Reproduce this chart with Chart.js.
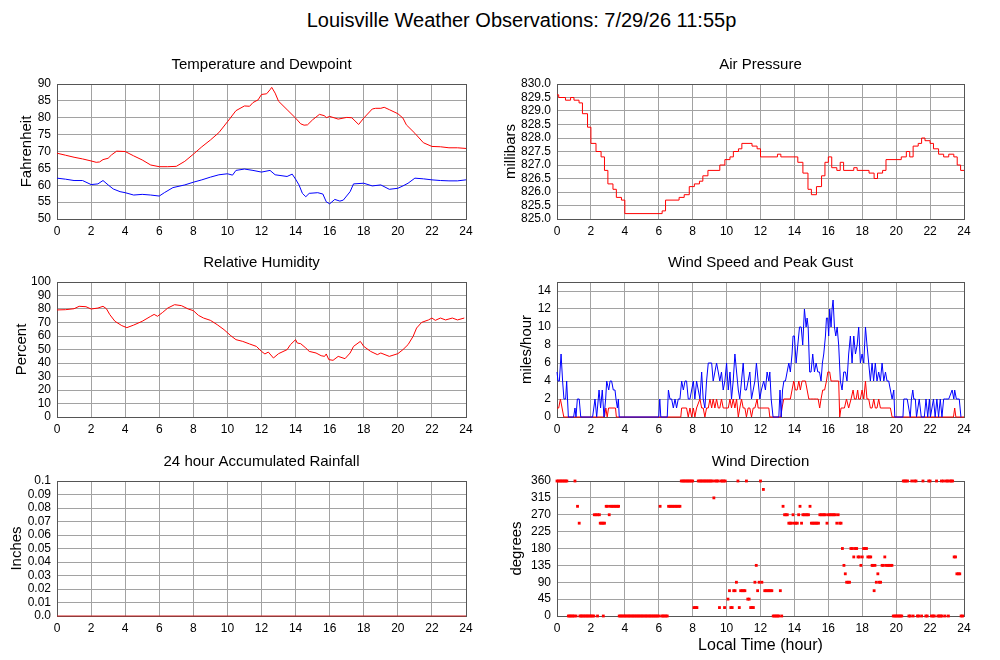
<!DOCTYPE html>
<html>
<head>
<meta charset="utf-8">
<script src="https://cdn.jsdelivr.net/npm/chart.js@4.4.1/dist/chart.umd.min.js"></script>
<style>
    body { margin: 0; background: #fff; width: 1000px; height: 660px; overflow: hidden; position: relative; font-family: "Liberation Sans", Arial, sans-serif; }
    #main-title { position: absolute; left: 0; top: 8px; width: 1043px; text-align: center; font-size: 20px; line-height: 24px; color: #000; }
    canvas { position: absolute; }
</style>
</head>
<body>
<div id="main-title">Louisville Weather Observations: 7/29/26 11:55p</div>
<canvas id="tempChart" style="left:0;top:50px" width="490" height="192"></canvas>
<canvas id="pressureChart" style="left:490px;top:50px" width="510" height="192"></canvas>
<canvas id="humidityChart" style="left:0;top:248px" width="490" height="192"></canvas>
<canvas id="windChart" style="left:490px;top:248px" width="510" height="192"></canvas>
<canvas id="rainChart" style="left:0;top:447px" width="490" height="192"></canvas>
<canvas id="dirChart" style="left:490px;top:447px" width="510" height="213"></canvas>
<script>
// --- Data (hour of day, value) ---
const hourTicks = [0, 2, 4, 6, 8, 10, 12, 14, 16, 18, 20, 22, 24];

const temperature = [[0,69.5],[0.5,68.9],[1,68.3],[1.5,67.8],[2,67.2],[2.3,66.8],[2.5,66.9],[2.7,67.6],[3,68.0],[3.2,69.0],[3.5,70.1],[4,70.0],[4.5,68.7],[5,67.5],[5.5,66.0],[6,65.5],[6.5,65.5],[7,65.6],[7.5,67.1],[8,69.2],[8.5,71.4],[9,73.4],[9.5,75.6],[10,78.8],[10.5,82.1],[11,83.5],[11.3,83.4],[11.5,84.5],[11.8,85.3],[12,86.9],[12.3,87.1],[12.5,88.3],[12.6,89.0],[12.8,87.3],[13,84.9],[13.5,82.4],[14,79.9],[14.3,78.2],[14.5,77.8],[14.7,77.9],[15,79.4],[15.4,81.0],[15.7,80.6],[15.8,80.0],[16,80.4],[16.5,79.6],[17,80.1],[17.3,80.0],[17.7,78.0],[18,79.9],[18.5,82.6],[18.7,82.8],[19,82.8],[19.2,83.1],[19.5,82.4],[20,81.2],[20.3,79.9],[20.5,77.9],[21,75.4],[21.5,72.6],[22,71.5],[22.5,71.4],[23,71.1],[23.5,71.1],[24,70.9]];

const dewpoint = [[0,62.1],[0.5,61.8],[1,61.4],[1.5,61.4],[2,60.2],[2.4,60.4],[2.7,61.4],[3,60.1],[3.3,58.9],[3.7,58.1],[4,57.8],[4.5,57.1],[5,57.3],[5.5,57.1],[6,56.8],[6.3,57.8],[6.8,59.3],[7.5,60.1],[8,60.9],[8.5,61.6],[9,62.4],[9.5,63.1],[10,63.4],[10.3,63.0],[10.5,64.4],[11,64.8],[11.5,64.4],[12,63.9],[12.5,64.4],[12.8,63.1],[13.5,62.6],[13.8,63.3],[14,61.8],[14.2,60.1],[14.4,57.6],[14.6,56.6],[14.8,57.6],[15.3,57.8],[15.6,57.4],[15.8,55.1],[16,54.5],[16.3,55.8],[16.6,55.3],[16.8,55.6],[17.2,58.1],[17.4,60.4],[18,60.6],[18.5,59.8],[19,60.1],[19.5,58.8],[20,59.1],[20.3,59.8],[20.6,60.6],[21,62.1],[21.5,61.9],[22,61.6],[22.5,61.4],[23,61.3],[23.5,61.3],[24,61.6]];

const pressure = [[0,829.6],[0.1,829.5],[0.5,829.4],[0.8,829.5],[1.0,829.4],[1.3,829.3],[1.5,828.9],[1.8,828.4],[2.0,827.8],[2.3,827.5],[2.6,827.3],[2.8,826.8],[3.0,826.3],[3.3,826.1],[3.5,825.8],[3.8,825.7],[4.0,825.2],[6.2,825.3],[6.4,825.7],[7.2,825.8],[7.5,825.9],[7.8,826.2],[8.1,826.3],[8.4,826.4],[8.6,826.6],[8.9,826.8],[9.6,827.0],[9.9,827.2],[10.2,827.3],[10.4,827.5],[10.7,827.6],[10.9,827.8],[11.5,827.7],[11.8,827.6],[12.0,827.3],[13.0,827.4],[13.2,827.3],[14.2,827.1],[14.5,826.7],[14.8,826.1],[15.0,825.9],[15.3,826.2],[15.6,826.6],[15.8,827.1],[16.0,827.3],[16.2,826.9],[16.5,826.8],[16.7,827.1],[16.9,826.8],[17.5,826.9],[17.7,826.8],[18.4,826.7],[18.7,826.5],[18.9,826.7],[19.2,826.8],[19.4,827.2],[20.3,827.3],[20.6,827.5],[20.8,827.3],[21.0,827.7],[21.3,827.8],[21.5,828.0],[21.7,827.9],[22.0,827.8],[22.2,827.6],[22.5,827.4],[22.8,827.3],[23.1,827.4],[23.4,827.3],[23.6,827.0],[23.8,826.8],[24,826.8]];

const humidity = [[0,79.3],[0.5,79.5],[1,80.2],[1.3,82.0],[1.7,81.7],[2,80.0],[2.4,80.7],[2.7,82.0],[2.9,80.2],[3.1,75.8],[3.4,70.9],[3.8,67.7],[4.1,66.2],[4.5,68.1],[5,70.9],[5.5,74.6],[5.7,76.0],[5.9,74.6],[6.2,77.5],[6.5,80.7],[6.9,83.2],[7.3,82.5],[7.7,80.0],[8,78.8],[8.3,75.3],[8.6,73.3],[9,71.6],[9.4,68.4],[9.8,64.7],[10.2,60.2],[10.5,57.3],[10.9,56.0],[11.3,54.1],[11.7,52.3],[12,48.6],[12.2,46.7],[12.4,48.1],[12.7,43.7],[13,46.9],[13.5,49.9],[13.7,53.6],[14,57.3],[14.1,54.8],[14.3,54.3],[14.6,51.1],[14.8,48.6],[15.2,47.4],[15.5,45.4],[15.7,44.9],[15.8,46.7],[15.95,42.5],[16.2,42.0],[16.5,44.9],[16.9,43.2],[17.2,47.4],[17.4,52.3],[17.8,56.0],[18,52.3],[18.4,48.6],[18.8,46.2],[19,47.4],[19.5,44.9],[20,46.9],[20.3,49.9],[20.6,53.6],[20.9,59.8],[21.1,65.9],[21.4,70.1],[21.8,71.9],[22,73.3],[22.2,71.6],[22.5,73.3],[22.8,71.9],[23.2,73.3],[23.5,71.9],[23.9,73.3]];

const peakGust = [[0,5],[0.06,4],[0.14,4],[0.24,7],[0.33,4],[0.41,2],[0.51,2],[0.57,4],[0.67,0],[0.98,0],[1.06,1],[1.12,0],[1.2,2],[1.31,2],[1.4,0],[2.1,0],[2.24,2],[2.34,0],[2.48,3],[2.57,1],[2.67,3],[2.77,0],[2.87,2],[2.93,4],[3.05,3],[3.13,4],[3.22,4],[3.32,3],[3.42,3],[3.48,2],[3.56,1],[3.62,2],[3.67,0],[6.0,0],[6.06,2],[6.12,0],[6.5,0],[6.57,3],[6.66,2],[6.76,2],[6.86,1],[6.96,2],[7.05,1],[7.15,2],[7.25,2],[7.35,4],[7.45,3],[7.55,4],[7.64,4],[7.74,2],[7.84,2],[7.94,3],[8.04,4],[8.13,2],[8.23,4],[8.33,3],[8.43,2],[8.53,5],[8.62,2],[8.72,1],[8.82,4],[8.92,6],[9.02,6],[9.12,6],[9.21,4],[9.31,5],[9.41,6],[9.51,5],[9.6,4],[9.7,5],[9.8,3],[9.9,4],[10.0,6],[10.1,3],[10.2,5],[10.29,2],[10.39,4],[10.49,7],[10.59,5],[10.69,3],[10.78,2],[10.88,4],[10.98,6],[11.08,3],[11.17,3],[11.27,4],[11.37,5],[11.47,2],[11.57,3],[11.67,4],[11.76,6],[11.86,4],[11.96,2],[12.05,3],[12.19,4],[12.29,3],[12.39,5],[12.49,4],[12.55,5],[12.63,2],[12.74,0],[13.08,0],[13.15,3],[13.22,0],[13.3,3],[13.38,4],[13.47,4],[13.57,5],[13.67,6],[13.76,5],[13.86,7],[13.92,9],[14.0,9],[14.1,6],[14.2,8],[14.3,10],[14.4,10],[14.49,8],[14.59,12],[14.69,10],[14.75,11],[14.81,10],[14.9,5],[14.98,5],[15.08,7],[15.18,5],[15.28,6],[15.38,5],[15.48,5],[15.57,4],[15.65,6],[15.73,7],[15.83,9],[15.89,11],[15.96,11],[16.02,9],[16.08,12],[16.16,10],[16.22,12],[16.28,13],[16.36,10],[16.44,9],[16.52,10],[16.61,8],[16.71,4],[16.81,3],[16.91,5],[17.01,5],[17.1,4],[17.2,7],[17.3,9],[17.4,6],[17.5,9],[17.6,7],[17.7,8],[17.79,10],[17.89,6],[17.99,7],[18.09,6],[18.19,10],[18.28,8],[18.38,6],[18.48,4],[18.58,6],[18.67,4],[18.77,6],[18.87,4],[18.97,5],[19.07,4],[19.17,6],[19.27,4],[19.37,5],[19.46,4],[19.56,4],[19.66,3],[19.76,2],[19.86,3],[19.92,0],[20.4,0],[20.45,2],[20.55,2],[20.65,2],[20.83,0],[20.9,2],[20.98,3],[21.04,2],[21.13,2],[21.2,0],[21.36,2],[21.48,0],[21.66,0],[21.76,2],[21.86,0],[21.96,2],[22.02,0],[22.2,2],[22.3,0],[22.4,2],[22.5,0],[22.6,2],[22.7,0],[22.8,2],[22.9,2],[23.0,2],[23.1,2],[23.3,3],[23.4,2],[23.45,3],[23.55,2],[23.72,2],[23.82,0]];

const windSpeed = [[0,1],[0.1,1],[0.2,2],[0.3,1],[0.4,0],[2.8,0],[2.88,1],[2.96,0],[3.04,1],[3.45,1],[3.5,0],[7.3,0],[7.35,1],[7.64,1],[7.74,0],[7.84,1],[7.94,0],[8.04,1],[8.13,0],[8.23,1],[8.43,2],[8.53,1],[8.62,1],[8.72,0],[8.82,1],[8.92,1],[9.02,2],[9.12,1],[9.21,2],[9.31,1],[9.41,2],[9.51,1],[9.6,1],[9.7,2],[9.8,1],[9.9,1],[10.1,1],[10.2,2],[10.29,1],[10.39,2],[10.49,1],[10.59,2],[10.69,0],[10.78,1],[10.88,2],[10.98,1],[11.08,1],[11.17,0],[11.27,1],[11.37,1],[11.47,0],[11.57,1],[11.67,1],[11.8,2],[11.86,1],[12.0,1],[12.49,1],[12.55,0],[13.2,0],[13.27,1],[13.37,2],[13.76,2],[13.86,3],[13.96,4],[14.06,3],[14.16,3],[14.26,4],[14.35,3],[14.45,4],[14.56,4],[14.65,4],[14.75,3],[14.85,2],[14.95,2],[15.14,2],[15.3,2],[15.4,2],[15.49,1],[15.57,2],[15.67,3],[15.78,3],[15.89,4],[15.97,5],[16.08,5],[16.16,4],[16.28,4],[16.61,4],[16.67,0],[16.75,1],[16.95,1],[17.07,2],[17.2,1],[17.34,2],[17.46,3],[17.54,2],[17.64,2],[17.73,3],[17.79,2],[17.89,2],[17.99,3],[18.09,2],[18.19,4],[18.28,2],[18.38,2],[18.48,1],[18.58,1],[18.68,2],[18.77,1],[18.87,1],[18.97,2],[19.07,1],[19.66,1],[19.76,0],[23.38,0],[23.45,1],[23.52,0],[24,0]];

const rainHours = [0, 24];
const rainInches = [0, 0];

const windDirection = [
    [0,360],[0.08,360],[0.17,360],[0.25,360],[0.33,360],[0.42,360],[0.5,360],[0.58,360],[1.06,360],
    [0.67,0],[0.75,0],[0.83,0],[0.92,0],[1.0,0],[1.12,0],[1.35,0],[1.42,0],[1.5,0],[1.58,0],[1.67,0],[1.75,0],[1.83,0],[1.92,0],[2.0,0],[2.08,0],[2.17,0],[2.39,0],[2.73,0],
    [1.21,292.5],[1.31,247.5],
    [2.2,270],[2.3,270],[2.4,270],[2.5,270],[3.08,270],
    [2.55,247.5],[2.63,247.5],[2.72,247.5],[2.8,247.5],
    [2.9,292.5],[2.98,292.5],[3.15,292.5],[3.23,292.5],[3.32,292.5],[3.4,292.5],[3.48,292.5],[3.57,292.5],[3.63,292.5],
    [3.67,0],[3.75,0],[3.83,0],[3.92,0],[4.0,0],[4.08,0],[4.17,0],[4.25,0],[4.33,0],[4.42,0],[4.5,0],[4.58,0],[4.67,0],[4.75,0],[4.83,0],[4.92,0],[5.0,0],[5.08,0],[5.17,0],[5.25,0],[5.33,0],[5.42,0],[5.5,0],[5.58,0],[5.67,0],[5.75,0],[5.83,0],[5.92,0],[6.0,0],[6.17,0],[6.25,0],[6.33,0],[6.42,0],[6.5,0],
    [6.08,292.5],[6.58,292.5],[6.67,292.5],[6.75,292.5],[6.83,292.5],[6.92,292.5],[7.0,292.5],[7.08,292.5],[7.17,292.5],[7.25,292.5],
    [7.33,360],[7.42,360],[7.5,360],[7.58,360],[7.67,360],[7.75,360],[7.83,360],[7.92,360],[8.0,360],[8.33,360],[8.42,360],[8.5,360],[8.58,360],[8.67,360],[8.75,360],[8.83,360],[8.92,360],[9.0,360],[9.08,360],[9.17,360],[9.33,360],[9.42,360],[9.5,360],[9.67,360],[9.75,360],[9.83,360],[9.92,360],[10.67,360],[11.17,360],[12.0,360],
    [8.08,22.5],[8.17,22.5],[8.25,22.5],[9.58,22.5],[9.88,22.5],[10.25,22.5],[10.33,22.5],[10.75,22.5],[11.42,22.5],[11.5,22.5],[11.58,22.5],
    [9.25,315],
    [10.08,45],[11.25,45],[11.33,45],
    [10.17,67.5],[10.42,67.5],[10.5,67.5],[10.83,67.5],[10.92,67.5],[11.0,67.5],[11.08,67.5],[11.83,67.5],[12.25,67.5],[12.33,67.5],[12.42,67.5],[12.5,67.5],[12.58,67.5],[12.67,67.5],[13.17,67.5],
    [10.58,90],[11.67,90],[11.92,90],[12.08,90],
    [11.75,135],[12.17,337.5],
    [12.75,0],[12.83,0],[12.92,0],[13.0,0],[13.08,0],[13.25,0],
    [13.33,292.5],[14.33,292.5],[14.92,292.5],
    [13.42,270],[13.5,270],[13.58,270],[13.92,270],[14.25,270],[14.5,270],[14.58,270],[14.67,270],[14.75,270],[14.83,270],[15.5,270],[15.58,270],[15.67,270],[15.75,270],[15.83,270],[16.0,270],[16.08,270],[16.17,270],[16.25,270],[16.33,270],[16.42,270],[16.58,270],
    [13.67,247.5],[13.75,247.5],[13.83,247.5],[14.0,247.5],[14.08,247.5],[14.17,247.5],[14.42,247.5],[15.0,247.5],[15.08,247.5],[15.17,247.5],[15.25,247.5],[15.33,247.5],[15.42,247.5],[15.92,247.5],[16.5,247.5],[16.67,247.5],[16.75,247.5],
    [16.83,180],[17.33,180],[17.42,180],[17.58,180],[17.67,180],[18.08,180],[18.17,180],[18.25,180],
    [17.5,157.5],[17.75,157.5],[17.83,157.5],[18.0,157.5],[18.33,157.5],[18.42,157.5],[18.5,157.5],[19.33,157.5],[23.42,157.5],[23.5,157.5],
    [16.92,135],[17.92,135],[18.58,135],[18.63,135],[18.75,135],[19.17,135],[19.25,135],[19.42,135],[19.5,135],[19.58,135],[19.67,135],[19.75,135],
    [17.0,112.5],[18.92,112.5],[23.58,112.5],[23.67,112.5],[23.75,112.5],
    [17.08,90],[17.17,90],[17.25,90],[18.83,90],[19.0,90],[19.08,90],
    [18.7,67.5],
    [19.83,0],[19.92,0],[20.0,0],[20.08,0],[20.17,0],[20.25,0],[20.33,0],[20.75,0],[20.83,0],[21.0,0],[21.25,0],[21.33,0],[21.5,0],[21.75,0],[21.83,0],[22.08,0],[22.17,0],[22.25,0],[22.46,0],[22.54,0],[22.62,0],[22.71,0],[22.88,0],[23.08,0],[23.83,0],[23.92,0],
    [20.42,360],[20.5,360],[20.58,360],[20.67,360],[20.92,360],[21.08,360],[21.17,360],[21.58,360],[21.92,360],[22.0,360],[22.38,360],[22.67,360],[22.79,360],[22.96,360],[23.04,360],[23.17,360],[23.25,360],[23.33,360]
];

// --- Shared styling ---
const FONT = '"Liberation Sans", Arial, sans-serif';
const GRID = '#a2a2a2';
const EDGE = '#555555';

function toXY(pairs) {
    return pairs.map(([h, v]) => ({ x: h, y: v }));
}

// dark frame round the plot area (drawn under the data),
// and the panel title centred over the plot rather than the canvas
const plotFrame = {
    id: 'plotFrame',
    afterLayout(chart) {
        const t = chart.titleBlock;
        if (!t) return;
        t.left = chart.chartArea.left;
        t.right = chart.chartArea.right;
        t.width = t.right - t.left;
    },
    beforeDatasetsDraw(chart) {
        const { ctx, chartArea: a } = chart;
        ctx.save();
        ctx.strokeStyle = EDGE;
        ctx.lineWidth = 1;
        ctx.strokeRect(Math.round(a.left) + 0.5, Math.round(a.top) + 0.5,
            Math.round(a.right - a.left), Math.round(a.bottom - a.top));
        ctx.restore();
    }
};

function makeChart(id, cfg) {
    const canvas = document.getElementById(id);
    if (!canvas) return null;

    return new Chart(canvas.getContext('2d'), {
        type: 'line',
        data: { datasets: cfg.datasets },
        options: {
            responsive: false,
            animation: false,
            events: [],
            layout: { padding: { left: 0, right: cfg.padRight, top: 0, bottom: 0 } },
            plugins: {
                legend: { display: false },
                tooltip: { enabled: false },
                title: {
                    display: true, text: cfg.title, color: '#000',
                    font: { family: FONT, size: 15, weight: 'normal', lineHeight: 1.2 },
                    padding: { top: 6, bottom: 10 }
                }
            },
            scales: {
                x: {
                    type: 'linear', min: 0, max: 24,
                    afterBuildTicks: s => { s.ticks = hourTicks.map(v => ({ value: v })); },
                    ticks: { color: '#000', font: { family: FONT, size: 12 }, padding: 5, maxRotation: 0, autoSkip: false },
                    grid: { color: GRID, drawTicks: false },
                    border: { color: EDGE },
                    title: cfg.xTitle
                        ? { display: true, text: cfg.xTitle, color: '#000', font: { family: FONT, size: 16, lineHeight: 1.2 }, padding: { top: 0, bottom: 5 } }
                        : { display: false },
                    afterFit: s => { s.height = cfg.xHeight || 23; }
                },
                y: {
                    type: 'linear', min: cfg.yMin, max: cfg.yMax,
                    ticks: {
                        stepSize: cfg.yStep, includeBounds: false, autoSkip: false,
                        color: '#000', font: { family: FONT, size: 12 }, padding: 6,
                        callback: cfg.yLabel || (v => v)
                    },
                    grid: { color: GRID, drawTicks: false },
                    border: { color: EDGE },
                    title: {
                        display: true, text: cfg.yTitle, color: '#000',
                        font: { family: FONT, size: 15, lineHeight: 1.2 },
                        padding: { top: cfg.yTitlePad, bottom: 0 }
                    },
                    afterFit: s => { s.width = cfg.yWidth; }
                }
            }
        },
        plugins: [plotFrame]
    });
}

function lineSet(pairs, color, extra) {
    return Object.assign({
        data: toXY(pairs),
        borderColor: color,
        borderWidth: 1,
        pointRadius: 0,
        tension: 0,
        clip: 2
    }, extra || {});
}

document.addEventListener('DOMContentLoaded', () => {
    makeChart('tempChart', {
        title: 'Temperature and Dewpoint', yTitle: 'Fahrenheit', yTitlePad: 18,
        yMin: 50, yMax: 90, yStep: 5, yWidth: 57, padRight: 24,
        datasets: [lineSet(temperature, '#ff0000'), lineSet(dewpoint, '#0000ff')]
    });

    makeChart('pressureChart', {
        title: 'Air Pressure', yTitle: 'millibars', yTitlePad: 12,
        yMin: 825, yMax: 830, yStep: 0.5, yWidth: 67, padRight: 36,
        yLabel: v => Number(v).toFixed(1),
        datasets: [lineSet(pressure, '#ff0000', { stepped: true })]
    });

    makeChart('humidityChart', {
        title: 'Relative Humidity', yTitle: 'Percent', yTitlePad: 13,
        yMin: 0, yMax: 100, yStep: 10, yWidth: 57, padRight: 24,
        datasets: [lineSet(humidity, '#ff0000')]
    });

    makeChart('windChart', {
        title: 'Wind Speed and Peak Gust', yTitle: 'miles/hour', yTitlePad: 28,
        yMin: 0, yMax: 15, yStep: 2, yWidth: 67, padRight: 36,
        datasets: [lineSet(peakGust, '#0000ff'), lineSet(windSpeed, '#ff0000')]
    });

    makeChart('rainChart', {
        title: '24 hour Accumulated Rainfall', yTitle: 'Inches', yTitlePad: 8,
        yMin: 0, yMax: 0.1, yStep: 0.01, yWidth: 57, padRight: 24,
        yLabel: v => (v === 0 ? '0.0' : String(+Number(v).toFixed(2))),
        datasets: [lineSet(rainHours.map((h, i) => [h, rainInches[i]]), '#cc2222', { clip: 3 })]
    });

    makeChart('dirChart', {
        title: 'Wind Direction', yTitle: 'degrees', yTitlePad: 18,
        xTitle: 'Local Time (hour)', xHeight: 44,
        yMin: 0, yMax: 360, yStep: 45, yWidth: 67, padRight: 36,
        datasets: [{
            data: toXY(windDirection),
            showLine: false,
            pointStyle: 'rect',
            pointRadius: 2,
            pointBorderWidth: 0,
            pointBackgroundColor: '#ff0000',
            pointBorderColor: '#ff0000',
            clip: 5
        }]
    });
});
</script>
</body>
</html>
